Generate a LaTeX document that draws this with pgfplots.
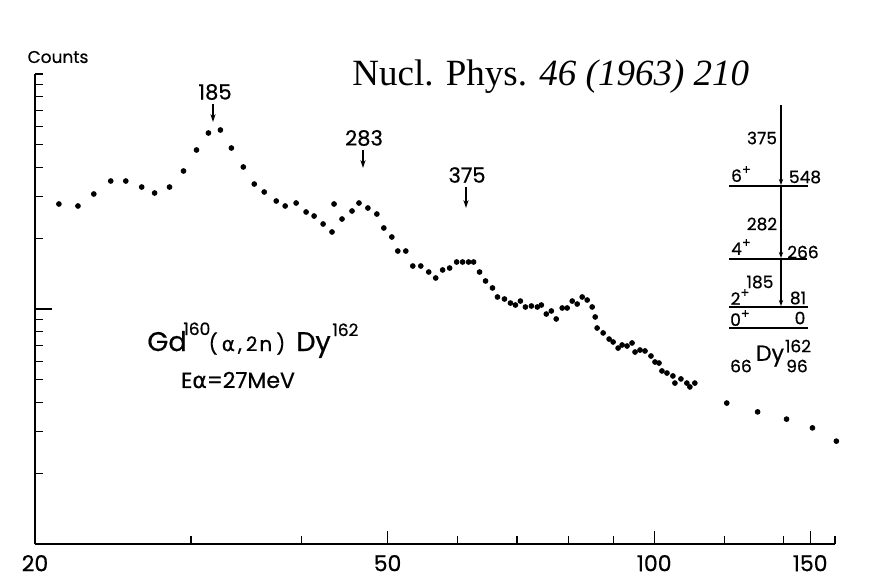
\documentclass[border=0pt]{standalone}
\usepackage{fontspec}
\usepackage{pgfplots}
\pgfplotsset{compat=1.18}
\usetikzlibrary{arrows.meta}
\setmainfont{Liberation Serif}
\newfontfamily\pop[FakeBold=0.6]{Poppins}
\newfontfamily\dv[FakeBold=0.6]{DejaVu Sans}

\pgfplotstableread{
x y
21.28 2798
22.36 2744
23.30 3086
24.35 3505
25.32 3505
26.39 3304
27.29 3116
28.37 3304
29.42 3866
30.43 4750
31.39 5610
32.38 5778
33.32 4842
34.37 4021
35.36 3403
36.29 3147
37.44 2881
38.32 2744
39.43 2825
40.46 2587
41.31 2487
42.29 2300
43.28 2127
43.51 2798
44.42 2415
45.59 2612
46.42 2825
47.51 2690
48.63 2536
49.52 2212
50.56 2025
51.35 1765
52.43 1765
53.39 1524
54.51 1524
55.65 1437
56.67 1355
57.70 1466
58.76 1494
59.84 1585
60.77 1585
61.72 1585
62.53 1585
63.51 1437
64.51 1316
65.68 1229
66.54 1125
67.76 1103
68.82 1060
69.72 1040
70.63 1081
71.55 1020
72.67 1030
73.81 1020
74.58 1040
75.55 952
76.54 981
77.53 907
78.75 1010
79.77 1010
80.81 1081
81.86 1050
82.93 1125
84.01 1092
85.11 1020
85.78 925
86.21 830
87.57 791
88.94 745
89.87 724
91.04 682
91.99 703
93.19 696
94.40 717
95.14 656
96.38 669
97.64 663
99.16 631
100.2 595
101.25 589
102.03 545
103.37 534
104.98 519
105.53 484
107.19 504
108.86 484
109.72 466
111.14 484
120.75 398
130.84 365
141.06 340
150.88 312
160.56 274
}\spectrum

\begin{document}
\begin{tikzpicture}
\useasboundingbox (0,0) rectangle (447.5pt,-293pt);
\begin{axis}[
  at={(17.5pt,-272pt)}, anchor=south west,
  width=400pt, height=235pt, scale only axis,
  xmode=log, ymode=log,
  xmin=20, xmax=160, ymin=100, ymax=10000,
  axis x line*=bottom, axis y line*=left,
  axis line style={line width=1.3pt,-},
  tick align=inside,
  major tick length=4pt, minor tick length=0pt,
  tick style={line width=0.6pt, black},
  xtick={30,40,60,70,80,90,120,140,160}, xticklabels={},
  extra x ticks={20,50,100,150},
  extra x tick labels={20,50,100,150},
  extra x tick style={major tick length=6.5pt},
  ytick={200,300,400,500,600,700,800,900,2000,3000,4000,5000,6000,7000,8000,9000,10000},
  yticklabels={},
  extra y ticks={1000}, extra y tick labels={},
  extra y tick style={major tick length=8.5pt},
  tick label style={font=\pop\fontsize{11}{11}\selectfont},
  xticklabel style={yshift=-2pt},
  /pgf/number format/assume math mode=true,
  clip=false,
]
\addplot[only marks, mark=*, mark size=1.2pt, black] table[x=x, y=y] {\spectrum};
\end{axis}

\begin{scope}[x=0.5pt, y=-0.5pt]
  % title
  \node[anchor=base west, inner sep=0] at (352,85)
    {\fontsize{18.5}{20}\selectfont Nucl. Phys. \textit{46 (1963) 210}};
  % y label
  \node at (58,57) {\pop\fontsize{8.5}{8.5}\selectfont Counts};
  % peak markers
  \node at (215,92) {\pop\fontsize{10.5}{10.5}\selectfont 185};
  \draw[line width=0.6pt, -{Stealth[length=4pt,width=2.6pt]}] (213,104) -- (213,122);
  \node at (364,138) {\pop\fontsize{10.5}{10.5}\selectfont 283};
  \draw[line width=0.6pt, -{Stealth[length=4pt,width=2.6pt]}] (363,150) -- (363,168);
  \node at (467,175) {\pop\fontsize{10.5}{10.5}\selectfont 375};
  \draw[line width=0.6pt, -{Stealth[length=4pt,width=2.6pt]}] (466,187) -- (466,208);
  % reaction
  \node[anchor=base west, inner sep=0] at (147,351) {\pop\fontsize{13.5}{13.5}\selectfont Gd};
  \node[anchor=base west, inner sep=0] at (183,335) {\pop\fontsize{8.5}{8.5}\selectfont 160};
  \node[anchor=base, inner sep=0] at (247,351)
    {\pop\fontsize{10}{10}\selectfont (\kern2pt{\dv α}\kern1.5pt,\kern2pt 2\kern1pt n\kern2pt)};
  \node[anchor=base west, inner sep=0] at (296,351) {\pop\fontsize{13.5}{13.5}\selectfont Dy};
  \node[anchor=base west, inner sep=0] at (332,336) {\pop\fontsize{8.5}{8.5}\selectfont 162};
  \node at (238,380) {\pop\fontsize{11}{11}\selectfont E{\dv α}=27MeV};
  % level scheme
  \draw[line width=0.6pt, -{Stealth[length=3pt,width=2.2pt]}] (781,105) -- (781,185);
  \draw[line width=0.6pt, -{Stealth[length=3pt,width=2.2pt]}] (781,186) -- (781,258);
  \draw[line width=0.6pt, -{Stealth[length=3pt,width=2.2pt]}] (781,259) -- (781,306);
  \draw[line width=1.3pt] (729,186) -- (808,186);
  \draw[line width=1.3pt] (729,259) -- (807,259);
  \draw[line width=1.3pt] (729,307) -- (808,307);
  \draw[line width=1.3pt] (729,328) -- (808,328);
  \begin{scope}[every node/.style={font=\pop\fontsize{8.5}{8.5}\selectfont, inner sep=0}]
    \node at (762,138) {375};
    \node at (741,174) {6\raisebox{0.45em}{\fontsize{6.5}{6.5}\selectfont+}};
    \node at (805,177) {548};
    \node at (762,224) {282};
    \node at (741,247) {4\raisebox{0.45em}{\fontsize{6.5}{6.5}\selectfont+}};
    \node at (803,252) {266};
    \node at (760,282) {185};
    \node at (740,297) {2\raisebox{0.45em}{\fontsize{6.5}{6.5}\selectfont+}};
    \node at (798,298) {81};
    \node at (740,318) {0\raisebox{0.45em}{\fontsize{6.5}{6.5}\selectfont+}};
    \node at (800,318) {0};
    \node at (770,356) {\fontsize{11}{11}\selectfont Dy};
    \node at (741,366) {66};
    \node at (798,346) {162};
    \node at (797,366) {96};
  \end{scope}
\end{scope}
\end{tikzpicture}
\end{document}
